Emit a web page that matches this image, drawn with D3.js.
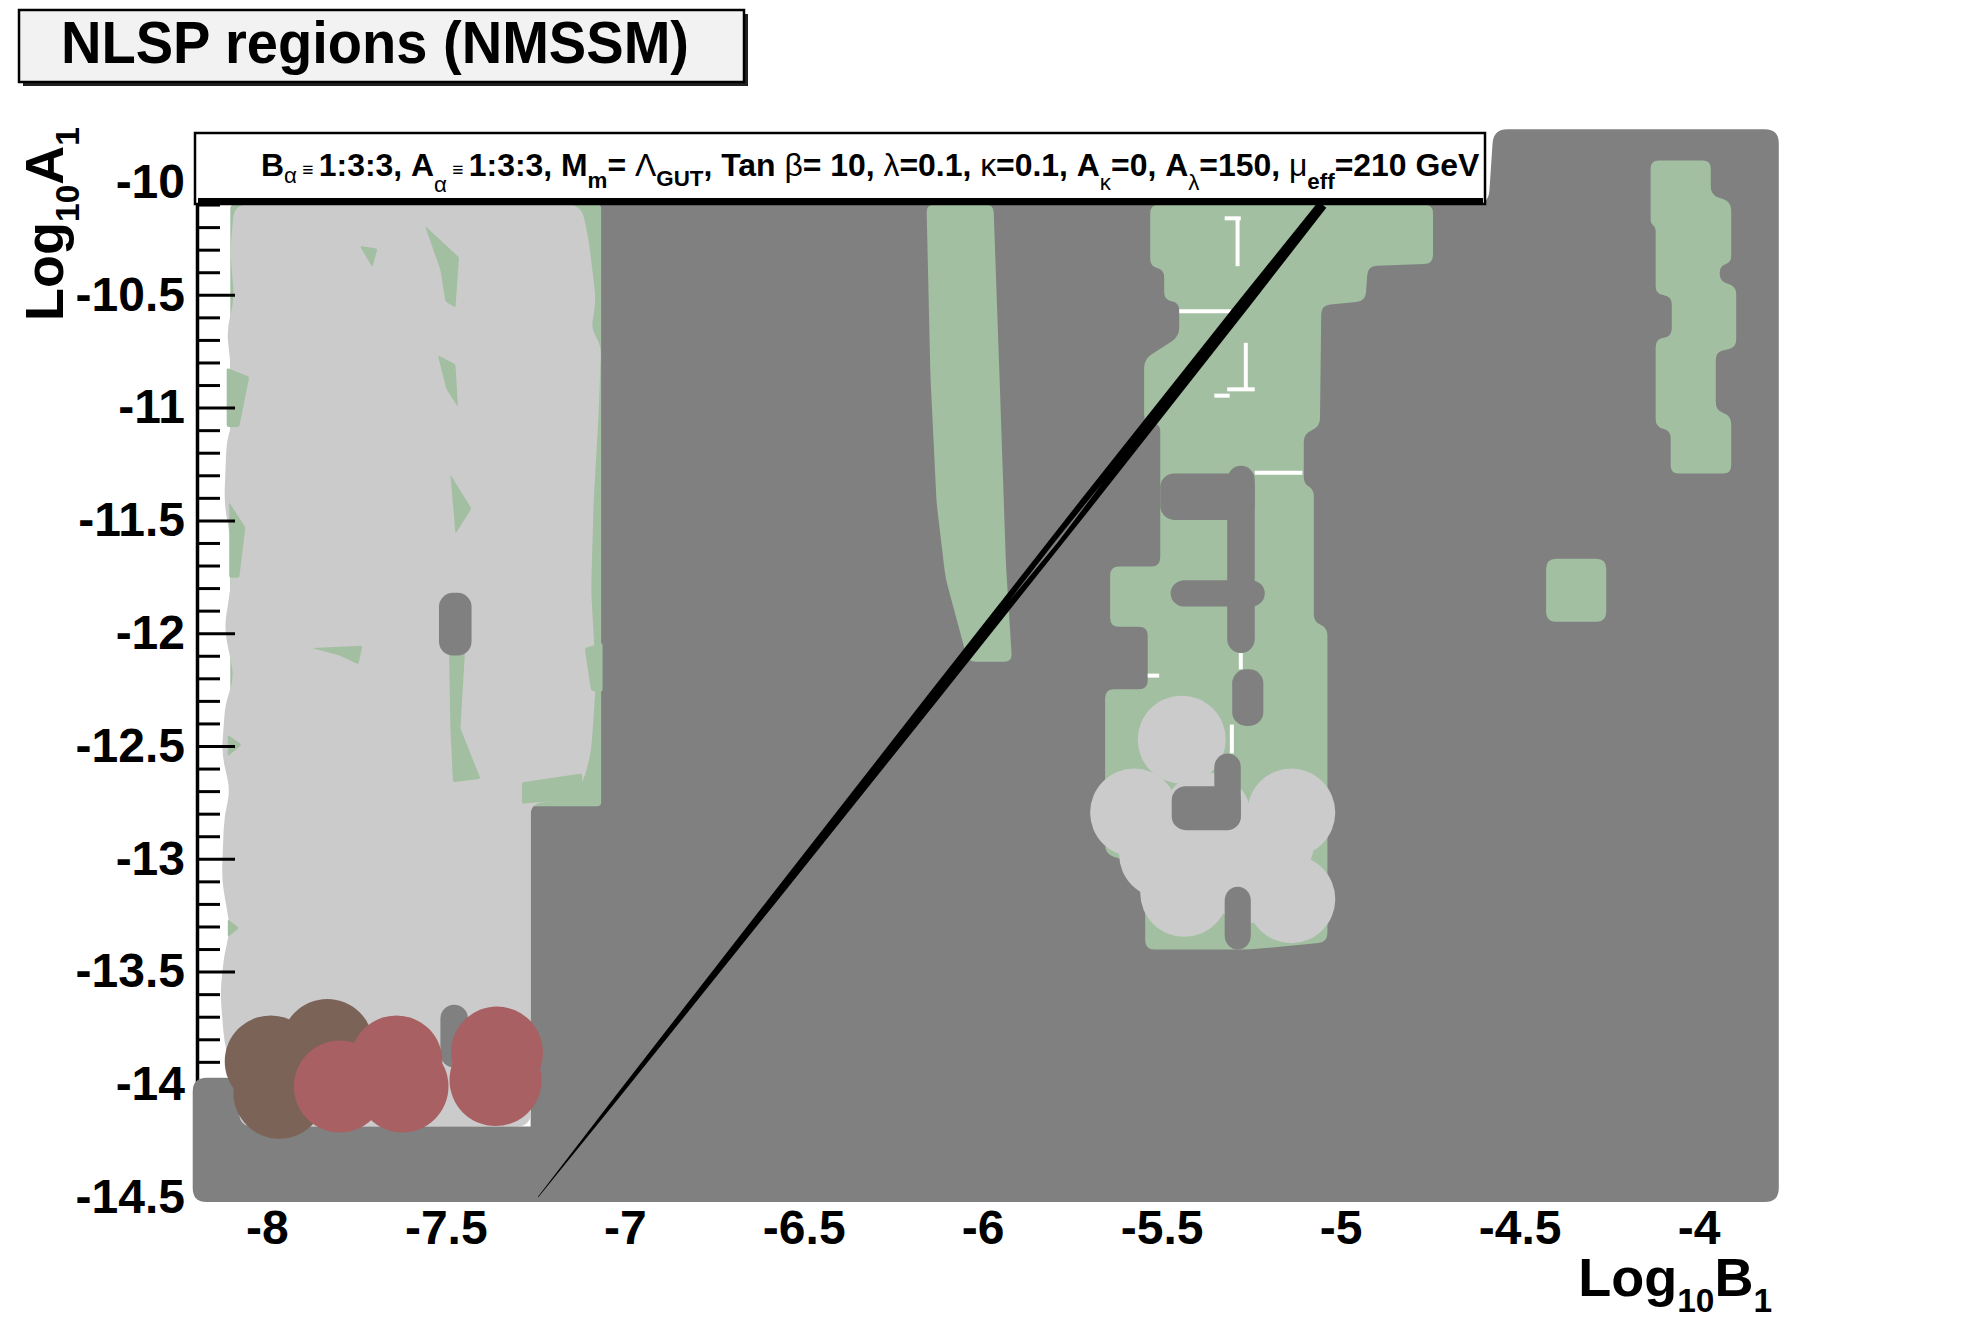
<!DOCTYPE html>
<html><head><meta charset="utf-8">
<script src="https://cdn.jsdelivr.net/npm/d3@7"></script>
<style>
html,body{margin:0;padding:0;background:#fff;}
svg{display:block;}
text{font-family:"Liberation Sans",Arial,Helvetica,sans-serif;font-weight:bold;}
</style></head><body>
<svg id="c" width="1970" height="1331"></svg>
<script>
// ---------------- data (log10 B1 , log10 A1) ----------------
const X_TICKS = [-8, -7.5, -7, -6.5, -6, -5.5, -5, -4.5, -4];
const Y_TICKS = [-10, -10.5, -11, -11.5, -12, -12.5, -13, -13.5, -14, -14.5];
const TITLE = "NLSP regions (NMSSM)";

// dark-grey NLSP region (outer hull)
const darkBase = [[-7.263,-10.10],[-4.587,-10.10],[-4.573,-9.766],[-3.776,-9.766],[-3.776,-14.521],[-7.263,-14.521]];
const darkBand = [[-8.207,-13.970],[-8.077,-13.970],[-8.077,-14.187],[-7.0,-14.187],[-7.0,-14.521],[-8.207,-14.521]];
// green NLSP regions
const greenLeft = [[-8.102,-10.10],[-7.066,-10.10],[-7.066,-12.767],[-7.263,-12.767],[-7.263,-13.970],[-8.102,-13.970]];
const greenStripe = [[-6.157,-10.10],[-5.970,-10.10],[-5.953,-10.863],[-5.935,-11.698],[-5.918,-12.127],[-6.041,-12.127],[-6.104,-11.754],[-6.129,-11.420],[-6.146,-10.863]];
const greenMid = [[-5.532,-10.10],[-4.742,-10.10],[-4.742,-10.362],[-4.924,-10.373],[-4.931,-10.529],[-5.054,-10.546],[-5.058,-11.086],[-5.103,-11.114],[-5.103,-11.336],[-5.075,-11.364],[-5.075,-11.949],[-5.037,-11.977],[-5.037,-13.369],[-5.251,-13.402],[-5.546,-13.402],[-5.546,-13.035],[-5.658,-12.979],[-5.658,-12.249],[-5.539,-12.249],[-5.539,-11.971],[-5.644,-11.971],[-5.644,-11.704],[-5.504,-11.704],[-5.504,-11.069],[-5.549,-11.069],[-5.549,-10.785],[-5.451,-10.685],[-5.451,-10.535],[-5.493,-10.523],[-5.493,-10.390],[-5.532,-10.373]];
const greenRight = [[-4.134,-9.905],[-3.966,-9.905],[-3.966,-10.056],[-3.909,-10.089],[-3.909,-10.356],[-3.941,-10.373],[-3.941,-10.440],[-3.895,-10.462],[-3.895,-10.735],[-3.952,-10.752],[-3.952,-11.013],[-3.909,-11.036],[-3.909,-11.292],[-4.078,-11.292],[-4.078,-11.102],[-4.120,-11.086],[-4.120,-10.696],[-4.075,-10.685],[-4.075,-10.507],[-4.120,-10.496],[-4.120,-10.200],[-4.134,-10.184]];
const greenSquare = [[-4.426,-11.670],[-4.258,-11.670],[-4.258,-11.949],[-4.426,-11.949]];
// light-grey NLSP region (left)
const lightLeft = [[-8.091,-10.10],[-7.122,-10.10],[-7.101,-10.251],[-7.080,-10.529],[-7.094,-10.651],[-7.066,-10.724],[-7.073,-11.030],[-7.087,-11.420],[-7.094,-11.810],[-7.080,-12.199],[-7.094,-12.533],[-7.122,-12.689],[-7.199,-12.745],[-7.263,-12.756],[-7.263,-14.187],[-8.077,-14.187],[-8.095,-13.970],[-8.119,-13.814],[-8.130,-13.591],[-8.119,-13.424],[-8.102,-13.313],[-8.126,-13.090],[-8.119,-12.812],[-8.102,-12.700],[-8.126,-12.533],[-8.116,-12.311],[-8.091,-12.199],[-8.119,-11.977],[-8.102,-11.810],[-8.095,-11.643],[-8.119,-11.420],[-8.112,-11.141],[-8.088,-11.030],[-8.098,-10.863],[-8.112,-10.651],[-8.091,-10.529],[-8.102,-10.306]];
// green gaps between light-grey points
const greenGaps = [
  [[-7.740,-10.284],[-7.691,-10.295],[-7.705,-10.379]],
  [[-7.558,-10.195],[-7.463,-10.334],[-7.473,-10.557],[-7.501,-10.529],[-7.515,-10.390]],
  [[-7.522,-10.768],[-7.473,-10.807],[-7.466,-10.997],[-7.498,-10.919]],
  [[-7.487,-11.297],[-7.428,-11.448],[-7.473,-11.559]],
  [[-7.491,-12.060],[-7.445,-12.043],[-7.459,-12.422],[-7.403,-12.645],[-7.480,-12.661],[-7.487,-12.422]],
  [[-7.874,-12.066],[-7.733,-12.055],[-7.744,-12.138],[-7.796,-12.099]],
  [[-7.287,-12.661],[-7.119,-12.622],[-7.119,-12.734],[-7.287,-12.756]],
  [[-7.112,-12.066],[-7.062,-12.043],[-7.062,-12.260],[-7.094,-12.255]],
  [[-8.112,-10.824],[-8.049,-10.863],[-8.077,-11.086],[-8.112,-11.086]],
  [[-8.105,-11.420],[-8.060,-11.531],[-8.077,-11.754],[-8.105,-11.754]],
  [[-8.109,-12.450],[-8.070,-12.494],[-8.109,-12.545]],
  [[-8.109,-13.268],[-8.077,-13.307],[-8.109,-13.346]]
];
// small dark-grey islands  [x0, y0, x1, y1]
const darkIslands = [
  [-7.519,-11.821,-7.428,-12.099],
  [-5.504,-11.292,-5.240,-11.498],
  [-5.317,-11.258,-5.240,-12.088],
  [-5.475,-11.765,-5.212,-11.882],
  [-5.303,-12.160,-5.216,-12.411]
];
const darkOnCluster = [
  [-5.472,-12.678,-5.279,-12.873],
  [-5.353,-12.533,-5.279,-12.873],
  [-5.324,-13.124,-5.251,-13.402]
];
const darkNearRed = [[-7.515,-13.647,-7.438,-13.925]];
// light-grey scan points (middle cluster)
const lightPts = [[-5.444,-12.472],[-5.577,-12.795],[-5.138,-12.795],[-5.437,-13.151],[-5.138,-13.179],[-5.286,-12.979],
  [-5.374,-12.812],[-5.496,-12.979],[-5.251,-13.090],[-5.198,-12.934]];
// brown and red scan points
const brownPts = [[-7.989,-13.898],[-7.831,-13.825],[-7.965,-14.037]];
const redPts = [[-7.796,-14.009],[-7.638,-13.898],[-7.621,-14.009],[-7.357,-13.859],[-7.361,-13.981]];
// white artefacts inside the green region [x1,y1,x2,y2]
const whiteMarks = [
  [-5.324,-10.161,-5.279,-10.161],[-5.288,-10.161,-5.288,-10.373],[-5.451,-10.573,-5.307,-10.573],
  [-5.265,-10.713,-5.265,-10.919],[-5.317,-10.919,-5.240,-10.919],[-5.353,-10.947,-5.310,-10.947],
  [-5.240,-11.289,-5.107,-11.289],[-5.279,-12.088,-5.279,-12.160],[-5.304,-12.405,-5.304,-12.533],
  [-5.539,-12.188,-5.507,-12.188]
];
// boundary line
const diagonal = [[-7.242,-14.499],[-5.051,-10.10]];

// ---------------- drawing ----------------
const COL = {dark:"#808080", light:"#cbcbcb", green:"#a2bfa1", brown:"#7b6357", red:"#a86062"};
const svg = d3.select("#c");
const x = d3.scaleLinear().domain([-8.195, -3.8]).range([197, 1770.2]);
const y = d3.scaleLinear().domain([-14.5, -10]).range([1197.2, 182]);

function rounded(pts, r) {
  const n = pts.length; let d = "";
  for (let i = 0; i < n; i++) {
    const p = pts[i], a = pts[(i - 1 + n) % n], b = pts[(i + 1) % n];
    const da = Math.hypot(a[0]-p[0], a[1]-p[1]), db = Math.hypot(b[0]-p[0], b[1]-p[1]);
    const rr = Math.min(r, da/2, db/2);
    const p1 = [p[0]+(a[0]-p[0])*rr/da, p[1]+(a[1]-p[1])*rr/da];
    const p2 = [p[0]+(b[0]-p[0])*rr/db, p[1]+(b[1]-p[1])*rr/db];
    d += (i === 0 ? "M" : "L") + p1[0] + "," + p1[1] + "Q" + p[0] + "," + p[1] + " " + p2[0] + "," + p2[1];
  }
  return d + "Z";
}
const px = pts => pts.map(([a, b]) => [x(a), y(b)]);
function region(g, pts, fill, r) { g.append("path").attr("d", rounded(px(pts), r)).attr("fill", fill); }
function islands(g, list, fill) {
  g.selectAll(null).data(list).join("rect")
    .attr("x", d => x(d[0])).attr("y", d => y(d[1]))
    .attr("width", d => x(d[2]) - x(d[0])).attr("height", d => y(d[3]) - y(d[1]))
    .attr("rx", d => Math.min(14, (x(d[2]) - x(d[0]))/2)).attr("ry", d => Math.min(14, (y(d[3]) - y(d[1]))/2))
    .attr("fill", fill);
}

const g = svg.append("g");
region(g, darkBase, COL.dark, 14);
region(g, greenLeft, COL.green, 4);
region(g, greenStripe, COL.green, 8);
region(g, greenMid, COL.green, 9);
region(g, greenRight, COL.green, 8);
region(g, greenSquare, COL.green, 10);
region(g, lightLeft, COL.light, 14);
greenGaps.forEach(p => region(g, p, COL.green, 2));
islands(g, darkIslands, COL.dark);
g.selectAll(null).data(lightPts).join("circle")
  .attr("cx", d => x(d[0])).attr("cy", d => y(d[1])).attr("r", 44).attr("fill", COL.light);
islands(g, darkOnCluster, COL.dark);
g.selectAll(null).data(whiteMarks).join("line")
  .attr("x1", d => x(d[0])).attr("y1", d => y(d[1])).attr("x2", d => x(d[2])).attr("y2", d => y(d[3]))
  .attr("stroke", "#fff").attr("stroke-width", 4);

// y axis (ticks pointing inward)
const yMinor = d3.range(100, 146).map(v => -v/10).filter(v => Math.abs(v*2 - Math.round(v*2)) > 1e-6);
const ax = svg.append("g").attr("transform", `translate(${x(-8.195)},0)`);
ax.append("g").call(d3.axisLeft(y).tickValues(yMinor).tickSize(-23).tickSizeOuter(0).tickFormat(""))
  .call(s => s.select(".domain").attr("stroke-width", 3.5))
  .call(s => s.selectAll(".tick line").attr("stroke-width", 3));
ax.append("g").call(d3.axisLeft(y).tickValues(Y_TICKS).tickSize(-38).tickSizeOuter(0).tickPadding(12).tickFormat(d => String(d)))
  .call(s => s.select(".domain").remove())
  .call(s => s.selectAll(".tick line").attr("stroke-width", 3))
  .call(s => s.selectAll("text").attr("font-size", 48).attr("font-family", '"Liberation Sans",Arial,sans-serif').attr("font-weight", "bold").attr("fill", "#000"));

const g2 = svg.append("g");
region(g2, darkBand, COL.dark, 14);
islands(g2, darkNearRed, COL.dark);
g2.selectAll(null).data(brownPts).join("circle")
  .attr("cx", d => x(d[0])).attr("cy", d => y(d[1])).attr("r", 46).attr("fill", COL.brown);
g2.selectAll(null).data(redPts).join("circle")
  .attr("cx", d => x(d[0])).attr("cy", d => y(d[1])).attr("r", 46).attr("fill", COL.red);

// tapered boundary line (with the thin split near the middle)
function taper(prof, fill) {
  const p0 = [x(diagonal[0][0]), y(diagonal[0][1])], p1 = [x(diagonal[1][0]), y(diagonal[1][1])];
  const L = Math.hypot(p1[0]-p0[0], p1[1]-p0[1]);
  const u = [(p1[0]-p0[0])/L, (p1[1]-p0[1])/L], n = [-u[1], u[0]];
  const left = prof.map(([t,w,o]) => [p0[0]+u[0]*L*t + n[0]*((o||0)+w/2), p0[1]+u[1]*L*t + n[1]*((o||0)+w/2)]);
  const right = prof.slice().reverse().map(([t,w,o]) => [p0[0]+u[0]*L*t + n[0]*((o||0)-w/2), p0[1]+u[1]*L*t + n[1]*((o||0)-w/2)]);
  svg.append("path").attr("d", "M" + left.concat(right).map(p => p.join(",")).join("L") + "Z").attr("fill", fill);
}
taper([[0,0.5],[0.1,4],[0.3,8],[0.5,11],[0.7,13],[0.9,12],[1,10]], "#000");
taper([[0.6,0,0],[0.66,2.5,0.5],[0.72,0,0]], COL.dark);

// header box with parameters
const hdr = svg.append("g");
hdr.append("rect").attr("x", 195).attr("y", 133).attr("width", 1290).attr("height", 71)
  .attr("fill", "#fff").attr("stroke", "#000").attr("stroke-width", 2.5);
hdr.append("rect").attr("x", 198).attr("y", 198).attr("width", 1285).attr("height", 7).attr("fill", "#000");
const pieces = [
  ["B","b",0],["α","g",0.22],[" ≡ ","e",0],["1:3:3, A","b",0],["α","g",0.5],[" ≡ ","e",0],["1:3:3, M","b",0],["m","s",0.38],
  ["= ","b",0],["Λ","G",0],["GUT","s",0.3],[", Tan ","b",0],["β","G",0],["= 10, ","b",0],["λ","G",0],["=0.1, ","b",0],
  ["κ","G",0],["=0.1, A","b",0],["κ","g",0.45],["=0, A","b",0],["λ","g",0.45],["=150, ","b",0],["μ","G",0],["eff","s",0.42],["=210 GeV","b",0]
];
function buildHeader(F) {
  hdr.selectAll("text.h").remove();
  const t = hdr.append("text").attr("class", "h").attr("x", 261).attr("y", 176).attr("font-size", F);
  let cur = 0;
  pieces.forEach(([s, k, sh]) => {
    const target = sh * F;
    const ts = t.append("tspan").text(s).attr("dy", target - cur);
    cur = target;
    if (k === "s") ts.attr("font-size", F*0.7);
    if (k === "g") ts.attr("font-size", F*0.7).attr("font-weight", "normal");
    if (k === "G") ts.attr("font-weight", "normal");
    if (k === "e") ts.attr("font-size", F*0.6);
  });
  return t;
}
let ht = buildHeader(28);
const w0 = ht.node().getComputedTextLength();
buildHeader(28 * 1219 / w0);

// x axis labels
svg.append("g").attr("transform", `translate(0,${y(-14.5)})`)
  .call(d3.axisBottom(x).tickValues(X_TICKS).tickSize(0).tickPadding(13).tickFormat(d => String(d)))
  .call(s => s.select(".domain").remove())
  .call(s => s.selectAll("text").attr("font-size", 48).attr("font-family", '"Liberation Sans",Arial,sans-serif').attr("font-weight", "bold").attr("fill", "#000"));

// title box
svg.append("rect").attr("x", 23).attr("y", 14).attr("width", 725).attr("height", 72).attr("fill", "#222");
svg.append("rect").attr("x", 19).attr("y", 10).attr("width", 725).attr("height", 72)
  .attr("fill", "#f2f2f2").attr("stroke", "#000").attr("stroke-width", 2.5);
svg.append("text").attr("x", 375).attr("y", 63).attr("text-anchor", "middle").attr("font-size", 60)
  .attr("textLength", 628).attr("lengthAdjust", "spacingAndGlyphs").text(TITLE);

// axis titles
function axisTitle(sel, main, sub, F) {
  sel.append("tspan").text(main[0]);
  sel.append("tspan").text(sub[0]).attr("font-size", F*0.62).attr("dy", F*0.3);
  sel.append("tspan").text(main[1]).attr("dy", -F*0.3);
  sel.append("tspan").text(sub[1]).attr("font-size", F*0.62).attr("dy", F*0.3);
}
const yt = svg.append("text").attr("transform", "translate(63,224) rotate(-90)").attr("text-anchor", "middle").attr("font-size", 54);
axisTitle(yt, ["Log","A"], ["10","1"], 54);
const xt = svg.append("text").attr("x", 1772).attr("y", 1296).attr("text-anchor", "end").attr("font-size", 54);
axisTitle(xt, ["Log","B"], ["10","1"], 54);
</script></body></html>
